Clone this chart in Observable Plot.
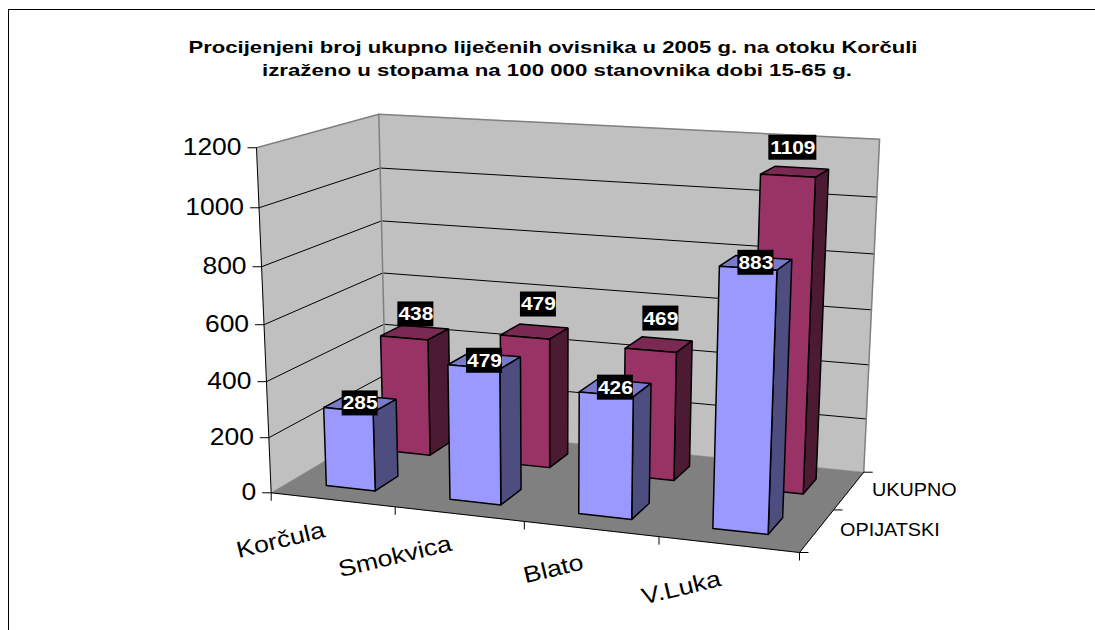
<!DOCTYPE html>
<html>
<head>
<meta charset="utf-8">
<script src="https://cdn.jsdelivr.net/npm/d3@7"></script>
<script src="https://cdn.jsdelivr.net/npm/@observablehq/plot@0.6"></script>
<style>
  html, body { margin: 0; padding: 0; background: #fff; }
  #page { position: relative; width: 1095px; height: 630px; overflow: hidden; font-family: "Liberation Sans", Arial, sans-serif; }
  #frame { position: absolute; left: 8px; top: 9px; right: -4px; bottom: -4px; border-left: 1.5px solid #000; border-top: 1.5px solid #000; }
  #page svg { position: absolute; left: 0; top: 0; background: transparent; }
  .cut { position: absolute; top: -19px; font-size: 18px; line-height: 18px; color: #000; }
</style>
</head>
<body>
<div id="page"><div id="frame"></div></div>
<script>
// ---- chart content ----
const titleLine1 = "Procijenjeni broj ukupno liječenih ovisnika u 2005 g. na otoku Korčuli";
const titleLine2 = "izraženo u stopama na 100 000 stanovnika dobi 15-65 g.";
const categories = ["Korčula", "Smokvica", "Blato", "V.Luka"];
const seriesNames = ["OPIJATSKI", "UKUPNO"];
const opijatski = [285, 479, 426, 883];
const ukupno = [438, 479, 469, 1109];
const valueTicks = [0, 200, 400, 600, 800, 1000, 1200];

// cropped line of the page above the chart
const croppedGlyphs = [["g", 138], [",", 160], ["p", 345], ["g", 873]];
for (const [t, left] of croppedGlyphs) {
  const s = document.createElement("span");
  s.className = "cut"; s.textContent = t; s.style.left = left + "px";
  document.getElementById("page").appendChild(s);
}

// ---- 3D box -> picture plane (perspective camera fitted to the picture) ----
const W = 1095, H = 630;
const cam = {
  o: [270.7, 492.3],
  ex: [464.38, 15.54], ey: [160.7, -18.35], ez: [-27.5, -352.4],
  wx: -0.08, wy: 0.1177, wz: -0.05
};
function P(cx, dp, v) {
  const w = 1 + cam.wx * cx + cam.wy * dp + cam.wz * v;
  return [0, 1].map(k => (cam.o[k] + cam.ex[k] * cx + cam.ey[k] * dp + cam.ez[k] * v) / w);
}
const vScale = d3.scaleLinear().domain([0, 1200]).range([0, 1]);
const cScale = d3.scaleBand().domain(categories).range([0, 1]).paddingInner(0.6).paddingOuter(0.3);
const dScale = d3.scaleBand().domain(seriesNames).range([0, 1]).paddingInner(0.6).paddingOuter(0.3);

// ---- geometry rows built from the data ----
const rows = (id, pts, extra) => pts.map(p => ({ id, px: p[0], py: p[1], ...extra }));
const closed = pts => [...pts, pts[0]];

const walls = [
  ...rows("left", closed([P(0,0,0), P(0,1,0), P(0,1,1), P(0,0,1)]), { fill: "#C0C0C0" }),
  ...rows("back", closed([P(0,1,0), P(1,1,0), P(1,1,1), P(0,1,1)]), { fill: "#C0C0C0" }),
  ...rows("floor", closed([P(0,0,0), P(1,0,0), P(1,1,0), P(0,1,0)]), { fill: "#808080" })
];
const grid = valueTicks.filter(t => t > 0 && t < 1200).flatMap(t => {
  const v = vScale(t);
  return rows("g" + t, [P(0,0,v), P(0,1,v), P(1,1,v)]);
});
const greyEdges = [
  ...rows("e1", [P(0,0,1), P(0,1,1), P(1,1,1), P(1,1,0)]),
  ...rows("e2", [P(0,1,1), P(0,1,0)])
];
const blackEdges = rows("e3", [P(0,0,1), P(0,0,0), P(1,0,0), P(1,1,0)]);

const palette = {
  OPIJATSKI: { front: "#9999FF", top: "#7A7ACC", side: "#4D4D80" },
  UKUPNO: { front: "#993366", top: "#7A2952", side: "#4D1A33" }
};
const seriesValues = { OPIJATSKI: opijatski, UKUPNO: ukupno };
const bars = ["UKUPNO", "OPIJATSKI"].flatMap(s => categories.flatMap((c, i) => {
  const v = vScale(seriesValues[s][i]);
  const x0 = cScale(c), x1 = x0 + cScale.bandwidth();
  const d0 = dScale(s), d1 = d0 + dScale.bandwidth();
  const col = palette[s], id = s + c;
  return [
    ...rows(id + "t", closed([P(x0,d0,v), P(x1,d0,v), P(x1,d1,v), P(x0,d1,v)]), { fill: col.top }),
    ...rows(id + "s", closed([P(x1,d0,0), P(x1,d1,0), P(x1,d1,v), P(x1,d0,v)]), { fill: col.side }),
    ...rows(id + "f", closed([P(x0,d0,0), P(x1,d0,0), P(x1,d0,v), P(x0,d0,v)]), { fill: col.front })
  ];
}));

// nudges of the rear row's value labels, which float above their bars in the source
const rearLabelNudge = [[1, -18], [4, -27], [2, -26], [-2, -24]];
const labels = seriesNames.flatMap(s => categories.map((c, i) => {
  const val = seriesValues[s][i];
  const p = P(cScale(c) + cScale.bandwidth() / 2, dScale(s) + dScale.bandwidth() / 2, vScale(val));
  const n = s === "UKUPNO" ? rearLabelNudge[i] : [0, 0];
  return { text: String(val), cx: p[0] + n[0], cy: p[1] + n[1], half: String(val).length * 6 };
}));

const valueTickRows = valueTicks.map(t => ({ t, p: P(0, 0, vScale(t)) }));
const catTickRows = [0, 0.25, 0.5, 0.75, 1].map(f => P(f, 0, 0));
const depthTickRows = [0, 0.5, 1].map(f => P(1, f, 0));

// stretches text horizontally the way the source picture is stretched
const stretch = sx => (index, scales, values, dims, ctx, next) => {
  const g = next(index, scales, values, dims, ctx);
  d3.select(g).selectAll("text").each(function () {
    this.setAttribute("transform", (this.getAttribute("transform") || "") + ` scale(${sx},1)`);
  });
  return g;
};
const fit = len => (index, scales, values, dims, ctx, next) => {
  const g = next(index, scales, values, dims, ctx);
  d3.select(g).selectAll("text").attr("textLength", len).attr("lengthAdjust", "spacingAndGlyphs");
  return g;
};

const catLabelDrop = [30, 29, 33, 34];
const catAnchor = c => P(cScale(c) + cScale.bandwidth() / 2, 0, 0);

const line = { x: "px", y: "py", z: "id" };
const chart = Plot.plot({
  width: W, height: H, margin: 0,
  x: { type: "linear", domain: [0, W], range: [0, W], axis: null },
  y: { type: "linear", domain: [0, H], range: [0, H], axis: null },
  color: { type: "identity" },
  style: { fontFamily: "'Liberation Sans', Arial, sans-serif", background: "transparent" },
  marks: [
    Plot.line(walls, { ...line, fill: "fill", stroke: "fill", strokeWidth: 0.5 }),
    Plot.line(grid, { ...line, stroke: "#000", strokeWidth: 1 }),
    Plot.line(greyEdges, { ...line, stroke: "#808080", strokeWidth: 1.5 }),
    Plot.line(blackEdges, { ...line, stroke: "#000", strokeWidth: 1 }),
    Plot.link(valueTickRows, { x1: d => d.p[0] - 9, x2: d => d.p[0], y1: d => d.p[1], y2: d => d.p[1], stroke: "#000", strokeWidth: 1 }),
    Plot.link(catTickRows, { x1: d => d[0], x2: d => d[0], y1: d => d[1], y2: d => d[1] + 8, stroke: "#000", strokeWidth: 1 }),
    Plot.link(depthTickRows, { x1: d => d[0], x2: d => d[0] + 9, y1: d => d[1], y2: d => d[1], stroke: "#000", strokeWidth: 1 }),
    Plot.line(bars, { ...line, fill: "fill", stroke: "#000", strokeWidth: 1.5, strokeLinejoin: "miter" }),
    Plot.rect(labels, { x1: d => d.cx - d.half, x2: d => d.cx + d.half, y1: d => d.cy - 12.5, y2: d => d.cy + 12.5, fill: "#000" }),
    Plot.text(labels, { x: "cx", y: "cy", text: "text", fill: "#fff", fontSize: 18.5, fontWeight: "bold", lineAnchor: "middle", render: stretch(1.13) }),
    Plot.text(valueTickRows, { x: d => d.p[0] - 15, y: d => d.p[1], text: d => String(d.t), textAnchor: "end", lineAnchor: "middle", fontSize: 23, fill: "#000", render: stretch(1.15) }),
    Plot.text(categories, { x: c => catAnchor(c)[0] - 8, y: (c, i) => catAnchor(c)[1] + catLabelDrop[i], text: c => c, rotate: -13.5, textAnchor: "end", lineAnchor: "middle", fontSize: 23, fill: "#000", render: stretch(1.16) }),
    Plot.text(seriesNames, { x: s => P(1, dScale(s) + dScale.bandwidth() / 2, 0)[0] + 23, y: s => P(1, dScale(s) + dScale.bandwidth() / 2, 0)[1], text: s => s, textAnchor: "start", lineAnchor: "middle", fontSize: 18, fill: "#000", render: stretch(1.1) }),
    Plot.text([titleLine1], { frameAnchor: "top", dx: 5, dy: 47, text: d => d, lineAnchor: "middle", fontSize: 16.5, fontWeight: "bold", fill: "#000", render: fit(729) }),
    Plot.text([titleLine2], { frameAnchor: "top", dx: 9, dy: 70, text: d => d, lineAnchor: "middle", fontSize: 16.5, fontWeight: "bold", fill: "#000", render: fit(590) })
  ]
});
document.getElementById("page").appendChild(chart);
</script>
</body>
</html>
